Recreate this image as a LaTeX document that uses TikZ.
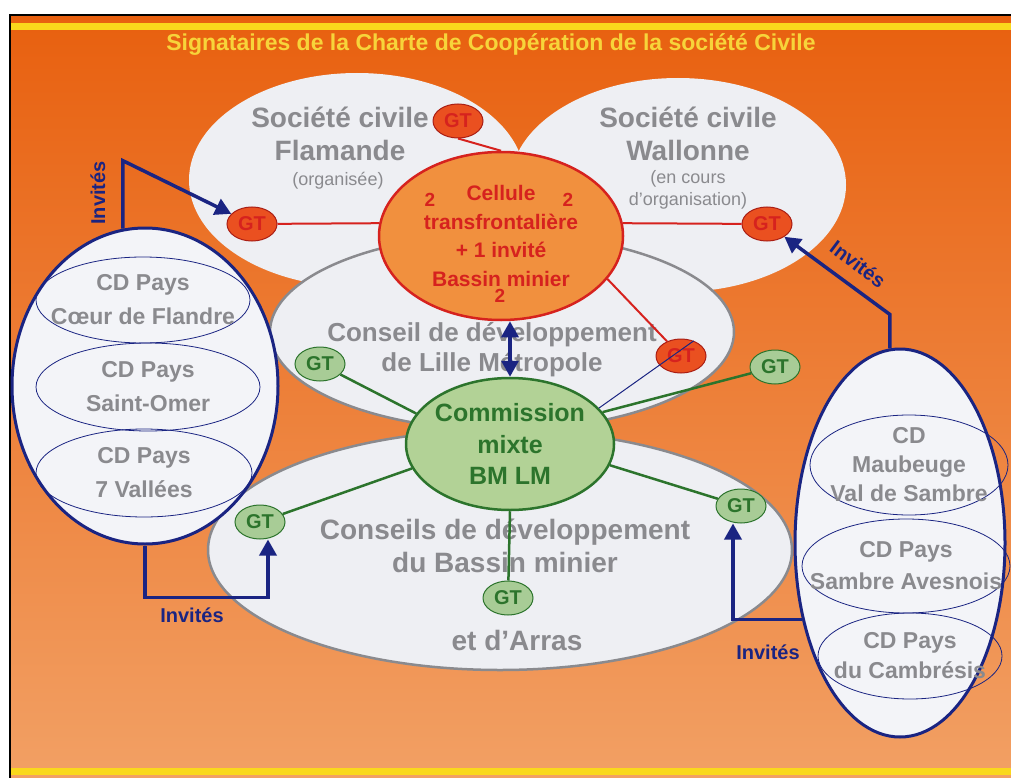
\documentclass[tikz,border=0pt]{standalone}
\usepackage{fontspec}
\setmainfont{Liberation Sans}
\usetikzlibrary{arrows.meta,shapes.geometric,calc}
\definecolor{BGtop}{RGB}{232,96,15}
\definecolor{BGmid}{RGB}{237,126,56}
\definecolor{BGbot}{RGB}{242,160,100}
\definecolor{CCyellow}{RGB}{250,216,28}
\definecolor{CCtitle}{RGB}{247,212,58}
\definecolor{CCgray}{RGB}{138,138,142}
\definecolor{CCwhite}{RGB}{238,239,243}
\definecolor{CCpale}{RGB}{243,244,248}
\definecolor{CCnavy}{RGB}{26,36,130}
\definecolor{CCred}{RGB}{214,34,30}
\definecolor{CCdarkred}{RGB}{170,30,20}
\definecolor{CCorange}{RGB}{241,144,62}
\definecolor{CCgtred}{RGB}{234,80,32}
\definecolor{CCgreen}{RGB}{44,116,44}
\definecolor{CClightgreen}{RGB}{178,210,150}
\definecolor{CCgtgreen}{RGB}{168,204,150}
\tikzset{
  zone/.style={ellipse,fill=CCwhite,inner sep=0pt},
  council/.style={zone,draw=CCgray,line width=2.5pt},
  cdgroup/.style={ellipse,draw=CCnavy,line width=3pt,fill=CCpale,inner sep=0pt},
  member/.style={ellipse,draw=CCnavy,line width=0.8pt,inner xsep=-30pt,inner ysep=-5pt,
                 text=CCgray,align=center,font=\bfseries\fontsize{23}{34}\selectfont},
  cellule/.style={ellipse,draw=CCred,line width=2.5pt,fill=CCorange,inner sep=0pt,
                  text=CCred,align=center,font=\bfseries\fontsize{21}{28.5}\selectfont},
  cellnum/.style={text=CCred,inner sep=0pt,font=\bfseries\fontsize{19}{19}\selectfont},
  commission/.style={ellipse,draw=CCgreen,line width=2.5pt,fill=CClightgreen,inner xsep=-5pt,
                     inner ysep=0pt,text=CCgreen,align=center,font=\bfseries\fontsize{25}{31.5}\selectfont},
  gtr/.style={ellipse,draw=CCdarkred,line width=1pt,fill=CCgtred,text=CCred,inner sep=1pt,
              minimum width=50,minimum height=34,font=\bfseries\fontsize{20}{20}\selectfont},
  gtg/.style={gtr,draw=CCgreen,fill=CCgtgreen,text=CCgreen},
  headline/.style={text=CCtitle,font=\bfseries\fontsize{23}{23}\selectfont},
  zonename/.style={text=CCgray,align=center,font=\bfseries\fontsize{28}{33}\selectfont},
  zonenote/.style={text=CCgray,align=center,font=\fontsize{18}{22}\selectfont},
  councilname/.style={text=CCgray,align=center,font=\bfseries\fontsize{26}{30}\selectfont},
  invlabel/.style={text=CCnavy,inner sep=0pt,font=\bfseries\fontsize{20}{20}\selectfont},
  inv/.style={draw=CCnavy,line width=3.5pt,-{Triangle[length=16pt,width=17pt]}},
  redline/.style={draw=CCred,line width=2pt},
  greenline/.style={draw=CCgreen,line width=2.5pt}
}
\begin{document}
\begin{tikzpicture}[x=1pt,y=-1pt]
  \useasboundingbox (0,0) rectangle (1011,778);
  % background and frame
  \fill[white] (0,0) rectangle (1011,778);
  \shade[top color=BGtop,middle color=BGmid,bottom color=BGbot] (10,15) rectangle (1011,778);
  \fill[CCyellow] (11,23) rectangle (1011,30);
  \fill[CCyellow] (11,768) rectangle (1011,775);
  \draw[black,line width=2pt] (10,778) -- (10,15) -- (1011,15);
  \node[headline] (title) at (491,45) {Signataires de la Charte de Coopération de la société Civile};

  % civil society areas
  \node[zone,minimum width=336,minimum height=214] (flam) at (357,180) {};
  \node[zone,minimum width=336,minimum height=214] (wall) at (678,185) {};
  \node[council,minimum width=464,minimum height=196] (lille) at (502,332) {};
  \node[council,minimum width=584,minimum height=240] (bassin) at (500,550) {};
  \node[zonename] (flamT) at (340,134) {Société civile\\Flamande};
  \node[zonenote] (flamN) at (338,181) {(organisée)};
  \node[zonename] (wallT) at (688,134) {Société civile\\Wallonne};
  \node[zonenote] (wallN) at (688,190) {(en cours\\d’organisation)};
  \node[councilname] (lilleT) at (492,350) {Conseil de développement\\de Lille Métropole};
  \node[councilname,font=\bfseries\fontsize{28}{33}\selectfont] (bassinT) at (505,546) {Conseils de développement\\du Bassin minier};
  \node[councilname,font=\bfseries\fontsize{28}{33}\selectfont] (arrasT) at (517,640) {et d’Arras};

  % guest councils
  \node[cdgroup,minimum width=266,minimum height=316] (left) at (145,386) {};
  \node[member,minimum width=214,minimum height=86] (cdA) at (143,300) {CD Pays\\Cœur de Flandre};
  \node[member,minimum width=224,minimum height=88] (cdB) at (148,387) {CD Pays\\Saint-Omer};
  \node[member,minimum width=216,minimum height=88] (cdC) at (144,473) {CD Pays\\7 Vallées};
  \node[cdgroup,minimum width=210,minimum height=388] (right) at (900,543) {};
  \node[member,minimum width=198,minimum height=100,font=\bfseries\fontsize{23}{29}\selectfont] (cdD) at (909,465) {CD\\Maubeuge\\Val de Sambre};
  \node[member,minimum width=208,minimum height=94,font=\bfseries\fontsize{23}{32}\selectfont] (cdE) at (906,566) {CD Pays\\Sambre Avesnois};
  \node[member,minimum width=184,minimum height=86,font=\bfseries\fontsize{23}{30}\selectfont] (cdF) at (910,656) {CD Pays\\du Cambrésis};

  % cells
  \node[cellule,minimum width=244,minimum height=168] (cell) at (501,236) {Cellule\\transfrontalière\\+ 1 invité\\Bassin minier};
  \node[cellnum] (numA) at (430,200) {2};
  \node[cellnum] (numB) at (568,200) {2};
  \node[cellnum] (numC) at (500,296) {2};
  \node[commission,minimum width=208,minimum height=132] (cm) at (510,444) {Commission\\mixte\\BM LM};

  % working groups
  \node[gtr] (gtFt) at (458,121) {GT};
  \node[gtr] (gtFl) at (252,224) {GT};
  \node[gtr] (gtWa) at (767,224) {GT};
  \node[gtr] (gtLm) at (681,356) {GT};
  \node[gtg] (gtLu) at (320,364) {GT};
  \node[gtg] (gtRu) at (775,367) {GT};
  \node[gtg] (gtLl) at (260,522) {GT};
  \node[gtg] (gtRl) at (741,506) {GT};
  \node[gtg] (gtB) at (508,598) {GT};

  \draw[redline] (gtFt.south) -- (cell.north);
  \draw[redline] (gtFl) -- (cell.174);
  \draw[redline] (cell.6) -- (gtWa);
  \draw[redline] (cell.-22) -- (gtLm);
  \draw[greenline] (cm.162) -- (gtLu);
  \draw[greenline] (cm.19) -- (gtRu);
  \draw[greenline] (cm.194) -- (gtLl);
  \draw[greenline] (cm.-12) -- (gtRl);
  \draw[greenline] (cm.south) -- (gtB);
  \draw[CCnavy,line width=1pt] (cm.22) -- (gtLm.50);

  % invitations
  \draw[inv,{Triangle[length=16pt,width=17pt]}-{Triangle[length=16pt,width=17pt]}] (cm.north |- cell.south) -- (cm.north);
  \draw[inv] (left.98) -- ++(0,-68) -- (gtFl);
  \draw[inv] (left.south) -- ++(0,52) -| ([xshift=8pt]gtLl.south);
  \draw[inv] (right.93) -- ++(0,-34) -- (gtWa);
  \draw[inv] (right.218) -| ([xshift=-8pt]gtRl.south);
  \node[invlabel,rotate=90] (invA) at (98,193) {Invités};
  \node[invlabel] (invB) at (192,615) {Invités};
  \node[invlabel,rotate=-37] (invC) at (858,264) {Invités};
  \node[invlabel] (invD) at (768,652) {Invités};
\end{tikzpicture}
\end{document}
